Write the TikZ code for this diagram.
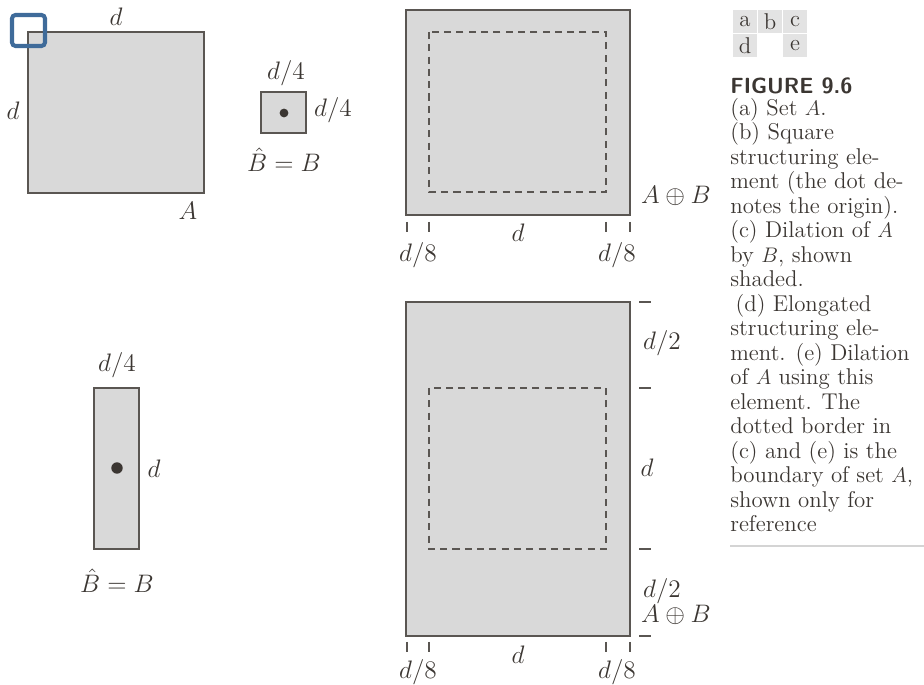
\documentclass[tikz,border=0pt]{standalone}
\usepackage{amsmath,amssymb}
\usepackage{xcolor}
\usepackage{tikz}
\usetikzlibrary{positioning}

\definecolor{inkgray}{HTML}{3B3632}
\definecolor{shade}{HTML}{D9D9D9}
\definecolor{edge}{HTML}{5A5652}
\definecolor{markblue}{HTML}{3F6B9A}
\definecolor{cellgray}{HTML}{E3E3E3}
\definecolor{rulegray}{HTML}{D4D4D4}

\begin{document}
\begin{tikzpicture}[
    x=0.02cm, y=-0.02cm,
    setbox/.style={fill=shade, draw=edge, line width=0.75pt},
    border/.style={draw=edge, dash pattern=on 4pt off 3pt, line width=0.6pt},
    tickmark/.style={draw=edge, line width=0.6pt},
    lbl/.style={text=inkgray, inner sep=0pt, font=\fontsize{14.5}{16}\selectfont},
    origin/.style={circle, fill=inkgray, inner sep=0pt},
    cell/.style={fill=cellgray, minimum width=0.48cm, minimum height=0.46cm, inner sep=0pt, text=inkgray, font=\fontsize{13}{14}\selectfont},
]
\useasboundingbox (0,0) rectangle (924,685);

% (a) set A
\draw[setbox] (28,32) rectangle (204,193);
\draw[markblue, line width=2.3pt, rounded corners=2pt] (12,15) rectangle (45,46);
\node[lbl] (aTop) at (116,17) {$d$};
\node[lbl] (aLeft) at (13,111) {$d$};
\node[lbl] (aName) at (188,211) {$A$};

% (b) square structuring element
\draw[setbox] (261,92) rectangle (306,133);
\node[origin, minimum size=5pt] (bDot) at (284,113) {};
\node[lbl] (bTop) at (286,73) {$d/4$};
\node[lbl] (bRight) at (333,110) {$d/4$};
\node[lbl] (bName) at (284,160) {$\hat{B}=B$};

% (c) dilation of A by B
\draw[setbox] (406,10) rectangle (630,215);
\draw[border] (429,32) rectangle (606,192);
\node[lbl] (cName) at (676,196) {$A\oplus B$};
\foreach \tx in {407,429,606,630}
  \draw[tickmark] (\tx,222) -- (\tx,232);
\node[lbl] (cLeft) at (418,255) {$d/8$};
\node[lbl] (cMid) at (518,233) {$d$};
\node[lbl] (cRight) at (617,255) {$d/8$};

% (d) elongated structuring element
\draw[setbox] (94,388) rectangle (139,549);
\node[origin, minimum size=6.5pt] (dDot) at (117,468) {};
\node[lbl] (dTop) at (117,365) {$d/4$};
\node[lbl] (dRight) at (154,469) {$d$};
\node[lbl] (dName) at (117,581) {$\hat{B}=B$};

% (e) dilation of A by elongated element
\draw[setbox] (406,302) rectangle (630,636);
\draw[border] (429,388) rectangle (606,549);
\foreach \ty in {302,388,549,636}
  \draw[tickmark] (639,\ty) -- (651,\ty);
\node[lbl] (eUpper) at (662,343) {$d/2$};
\node[lbl] (eMid) at (647,468) {$d$};
\node[lbl] (eLower) at (662,591) {$d/2$};
\node[lbl] (eName) at (676,615) {$A\oplus B$};
\foreach \tx in {407,429,606,630}
  \draw[tickmark] (\tx,642) -- (\tx,652);
\node[lbl] (eLeft) at (418,672) {$d/8$};
\node[lbl] (eBot) at (518,655) {$d$};
\node[lbl] (eRight) at (617,672) {$d/8$};

% panel key
\node[cell] (ka) at (745,22) {a};
\node[cell] (kb) at (770,22) {b};
\node[cell] (kc) at (795,22) {c};
\node[cell] (kd) at (745,46) {d};
\node[cell] (ke) at (795,46) {e};

% caption
\node[anchor=base west, inner sep=0pt, text=inkgray, font=\fontsize{12.5}{14}\selectfont\sffamily\bfseries] (figTitle) at (730,94) {FIGURE 9.6};
\node[anchor=north west, inner sep=0pt, align=left, text=inkgray, font=\fontsize{13}{13.94}\selectfont] (caption) at (730,98) {%
(a) Set $A$.\\
(b) Square\\
structuring ele-\\
ment (the dot de-\\
notes the origin).\\
(c) Dilation of $A$\\
by $B$, shown\\
shaded.\\
\hspace{3pt}(d) Elongated\\
structuring ele-\\
ment. (e) Dilation\\
of $A$ using this\\
element. The\\
dotted border in\\
(c) and (e) is the\\
boundary of set $A$,\\
shown only for\\
reference};
\draw[rulegray, line width=0.6pt] (730,546) -- (924,546);

\end{tikzpicture}
\end{document}
